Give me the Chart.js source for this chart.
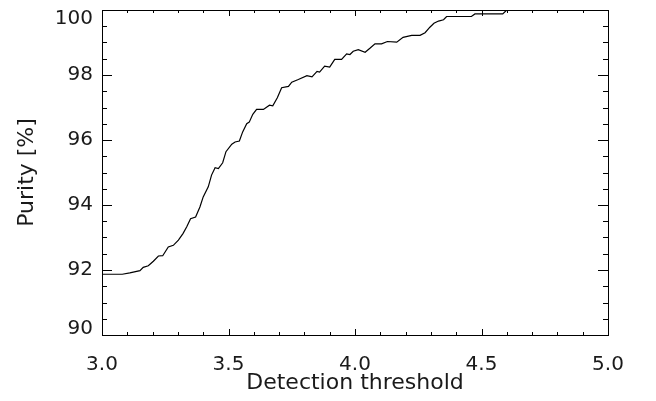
<!DOCTYPE html>
<html>
<head>
<meta charset="utf-8">
<title>Purity vs detection threshold</title>
<script src="https://cdn.jsdelivr.net/npm/chart.js@4.4.1/dist/chart.umd.min.js"></script>
<style>
    body { margin: 0; background: #fff; }
    #wrap { width: 656px; height: 401px; }
</style>
</head>
<body>
<div id="wrap"><canvas id="purityChart" width="656" height="401"></canvas></div>
<script>
// values
const thresholds = [
    3.00, 3.08, 3.11, 3.15, 3.163, 3.183, 3.203, 3.223, 3.24, 3.262,
    3.282, 3.302, 3.32, 3.335, 3.35, 3.37, 3.387, 3.40, 3.42, 3.433,
    3.447, 3.46, 3.477, 3.49, 3.513, 3.526, 3.543, 3.556, 3.572, 3.582,
    3.596, 3.611, 3.638, 3.662, 3.675, 3.693, 3.71, 3.737, 3.75, 3.776,
    3.81, 3.83, 3.85, 3.86, 3.88, 3.90, 3.92, 3.947, 3.967, 3.98,
    3.993, 4.013, 4.04, 4.06, 4.079, 4.105, 4.128, 4.165, 4.19, 4.224,
    4.257, 4.277, 4.296, 4.312, 4.33, 4.35, 4.362, 4.46, 4.474, 4.584,
    4.60
];
const purity = [
    91.87, 91.87, 91.91, 91.98, 92.08, 92.13, 92.27, 92.43, 92.44, 92.71,
    92.76, 92.92, 93.12, 93.33, 93.58, 93.63, 93.94, 94.25, 94.56, 94.92,
    95.15, 95.12, 95.30, 95.64, 95.87, 95.94, 95.97, 96.25, 96.50, 96.55,
    96.79, 96.94, 96.94, 97.07, 97.05, 97.30, 97.61, 97.65, 97.78, 97.86,
    97.98, 97.94, 98.11, 98.09, 98.27, 98.24, 98.48, 98.48, 98.65, 98.63,
    98.73, 98.78, 98.70, 98.83, 98.96, 98.96, 99.03, 99.01, 99.16, 99.22,
    99.22, 99.30, 99.47, 99.59, 99.66, 99.70, 99.80, 99.80, 99.88, 99.88,
    100.0
];
const xTicks = [3.0, 3.5, 4.0, 4.5, 5.0];
const yTicks = [90, 92, 94, 96, 98, 100];

const FONT = 'DejaVu Sans';
const INK = '#000';
const TEXT = '#1a1a1a';

// IDL-like frame with inward ticks on all four sides
const frameTicks = {
    id: 'frameTicks',
    afterDraw(chart) {
        const { ctx, chartArea: a } = chart;
        const xs = chart.scales.x, ys = chart.scales.y;
        ctx.save();
        ctx.strokeStyle = INK;
        ctx.lineWidth = 1;
        ctx.strokeRect(a.left + 0.5, a.top + 0.5, a.right - a.left, a.bottom - a.top);
        ctx.beginPath();
        // x: minor every 0.1, major every 0.5
        for (let i = 0; i <= 20; i++) {
            const px = Math.round(xs.getPixelForValue(xs.min + i * 0.1)) + 0.5;
            const len = i % 5 === 0 ? 6 : 3;
            ctx.moveTo(px, a.bottom); ctx.lineTo(px, a.bottom - len);
            ctx.moveTo(px, a.top); ctx.lineTo(px, a.top + len);
        }
        // y: minor every 0.5, major every 2
        for (let i = 0; i <= 20; i++) {
            const py = Math.round(ys.getPixelForValue(ys.min + i * 0.5)) + 0.5;
            const len = i % 4 === 0 ? 10 : 5;
            ctx.moveTo(a.left, py); ctx.lineTo(a.left + len, py);
            ctx.moveTo(a.right, py); ctx.lineTo(a.right - len, py);
        }
        ctx.stroke();
        ctx.restore();
    }
};

const isTop = v => v === yTicks[yTicks.length - 1];
const isBottom = v => v === yTicks[0];

new Chart(document.getElementById('purityChart'), {
    type: 'line',
    data: {
        datasets: [{
            data: thresholds.map((t, i) => ({ x: t, y: purity[i] })),
            borderColor: INK,
            borderWidth: 1.2,
            pointRadius: 0,
            tension: 0,
            fill: false
        }]
    },
    options: {
        responsive: false,
        devicePixelRatio: 1,
        animation: false,
        layout: { padding: { top: 10, right: 48, bottom: 0, left: 0 } },
        plugins: { legend: { display: false }, tooltip: { enabled: false } },
        scales: {
            x: {
                type: 'linear',
                min: xTicks[0],
                max: xTicks[xTicks.length - 1],
                afterBuildTicks: s => { s.ticks = xTicks.map(v => ({ value: v })); },
                afterFit: s => { s.height = 66; s.paddingLeft = 0; s.paddingRight = 0; },
                grid: { display: false, drawTicks: false },
                border: { display: false },
                ticks: {
                    padding: 18,
                    color: TEXT,
                    font: { family: FONT, size: 20 },
                    callback: v => Number(v).toFixed(1)
                },
                title: {
                    display: true,
                    text: 'Detection threshold',
                    color: TEXT,
                    font: { family: FONT, size: 22 },
                    padding: { top: 0, bottom: 5 }
                }
            },
            y: {
                type: 'linear',
                min: yTicks[0],
                max: yTicks[yTicks.length - 1],
                afterBuildTicks: s => { s.ticks = yTicks.map(v => ({ value: v })); },
                afterFit: s => { s.width = 102; s.paddingTop = 0; s.paddingBottom = 0; },
                grid: { display: false, drawTicks: false },
                border: { display: false },
                ticks: {
                    padding: 9,
                    color: TEXT,
                    // end labels get a shorter line so they sit just inside the frame
                    font: c => ({
                        family: FONT, size: 20,
                        lineHeight: c.tick && isTop(c.tick.value) ? '17px' : c.tick && isBottom(c.tick.value) ? '13px' : 1.2
                    }),
                    callback: v => isTop(v) ? ['', String(v)] : isBottom(v) ? [String(v), ''] : String(v)
                },
                title: {
                    display: true,
                    text: 'Purity [%]',
                    color: TEXT,
                    font: { family: FONT, size: 22 },
                    padding: { top: 14, bottom: 0 }
                }
            }
        }
    },
    plugins: [frameTicks]
});
</script>
</body>
</html>
